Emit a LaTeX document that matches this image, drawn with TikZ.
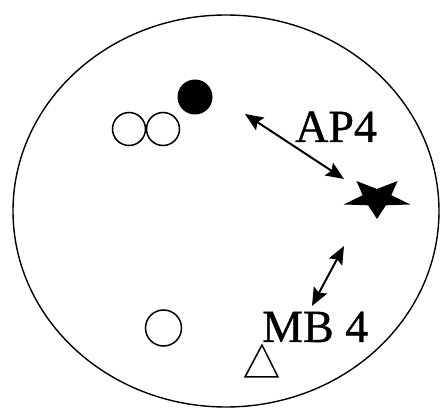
\documentclass[tikz,border=0pt]{standalone}
\usepackage{fontspec}
\setmainfont{Liberation Serif}
\newfontfamily\lblfont[FakeBold=0.8]{Liberation Serif}
\usetikzlibrary{arrows.meta}
\begin{document}
\begin{tikzpicture}[x=1pt,y=-1pt,
  opencirc/.style={circle,draw,line width=1.5pt,minimum size=33pt,inner sep=0pt},
  fullcirc/.style={circle,fill,minimum size=35pt,inner sep=0pt},
  lbl/.style={anchor=base west,inner sep=0pt,font=\lblfont\fontsize{46}{50}\selectfont},
  dbl/.style={<->,>={Stealth[length=18pt,width=15pt,inset=3pt]},line width=2pt}]
\useasboundingbox (0,0) rectangle (440,409);
\draw[line width=1.4pt] (226,211) ellipse [x radius=213, y radius=196];
\node[fullcirc] (f1) at (195,97) {};
\node[opencirc] (o1) at (129,129) {};
\node[opencirc] (o2) at (163,129) {};
\node[opencirc,minimum size=36pt] (o3) at (163.5,328) {};
\draw[line width=1.5pt] (262,345) -- (245,377) -- (278,377) -- cycle;
\coordinate (tri) at (262,365);
\begin{scope}[shift={(377,198)}, x=35pt, y=-21pt]
\fill (90:1) -- (126:0.43) -- (162:1) -- (198:0.43) -- (234:1) -- (270:0.43) -- (306:1) -- (342:0.43) -- (18:1) -- (54:0.43) -- cycle;
\coordinate (star) at (0,0);
\end{scope}
\node[lbl] (ap) at (295,142) {AP4};
\node[lbl] (mb) at (262,342) {MB 4};
\coordinate (a1) at (245,114);
\coordinate (a2) at (344,179);
\coordinate (b1) at (344,246);
\coordinate (b2) at (312,306);
\draw[dbl] (a1) -- (a2);
\draw[dbl] (b1) -- (b2);
\end{tikzpicture}
\end{document}
